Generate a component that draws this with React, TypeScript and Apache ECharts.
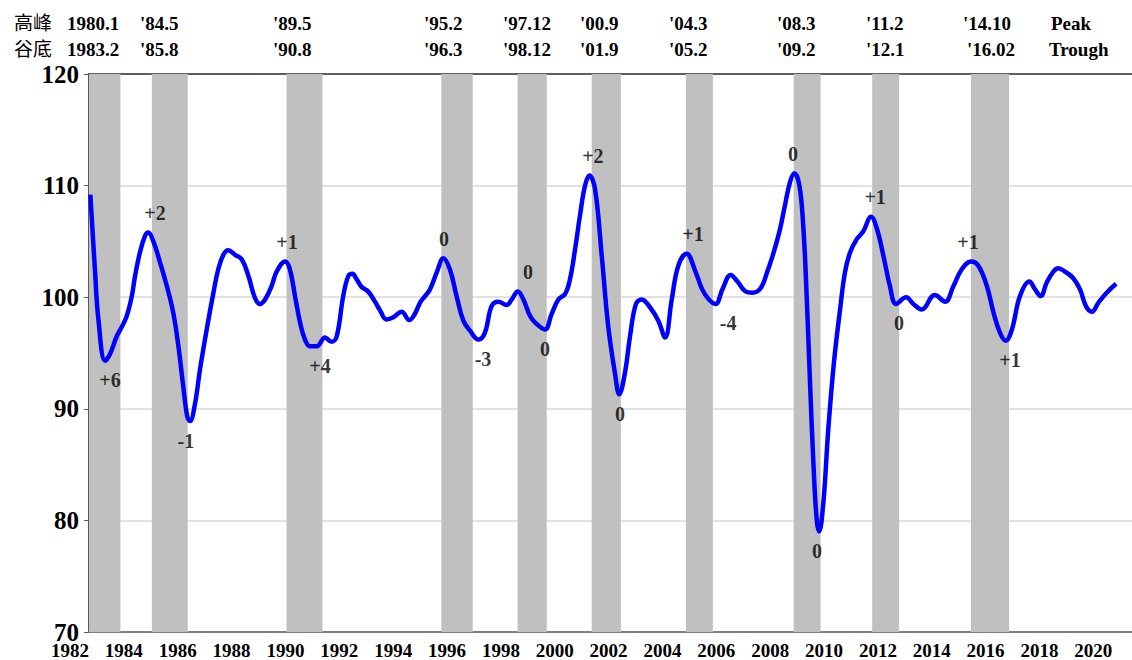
import { useEffect, useRef } from 'react';
import * as echarts from 'echarts';

// Leading index (composite): time (decimal year) and value
const cliTime = [
  1982.05, 1982.22, 1982.35, 1982.6, 1982.78, 1983.03, 1983.21, 1983.4, 1983.59, 1983.71,
  1983.89, 1984.08, 1984.2, 1984.39, 1984.64, 1984.89, 1985.13, 1985.32, 1985.5, 1985.65,
  1985.75, 1985.94, 1986.12, 1986.37, 1986.62, 1986.8, 1986.99, 1987.17, 1987.42, 1987.67,
  1987.92, 1988.16, 1988.35, 1988.54, 1988.78, 1988.97, 1989.28, 1989.46, 1989.65, 1989.84,
  1990.02, 1990.21, 1990.46, 1990.76, 1991.01, 1991.2, 1991.44, 1991.63, 1991.78, 1991.94,
  1992.13, 1992.37, 1992.62, 1992.81, 1993.05, 1993.3, 1993.61, 1993.89, 1994.1, 1994.29,
  1994.48, 1994.66, 1994.91, 1995.16, 1995.4, 1995.65, 1995.9, 1996.15, 1996.46, 1996.7,
  1996.95, 1997.2, 1997.51, 1997.7, 1997.92, 1998.13, 1998.38, 1998.62, 1998.93, 1999.18,
  1999.43, 1999.68, 1999.86, 2000.05, 2000.23, 2000.42, 2000.58, 2000.79, 2001.04, 2001.28,
  2001.53, 2001.69, 2001.9, 2002.09, 2002.31, 2002.52, 2002.83, 2003.14, 2003.39, 2003.64,
  2003.88, 2004.19, 2004.52, 2004.77, 2005.02, 2005.27, 2005.52, 2005.83, 2006.08, 2006.39,
  2006.63, 2006.94, 2007.19, 2007.41, 2007.66, 2007.84, 2008.03, 2008.19, 2008.38, 2008.53,
  2008.65, 2008.77, 2008.9, 2009.02, 2009.11, 2009.27, 2009.45, 2009.66, 2009.89, 2010.07,
  2010.26, 2010.51, 2010.75, 2011.04, 2011.25, 2011.5, 2011.74, 2011.97, 2012.34, 2012.61,
  2012.92, 2013.41, 2013.79, 2014.1, 2014.41, 2014.75, 2015.03, 2015.34, 2015.59, 2015.83,
  2016.04, 2016.27, 2016.57, 2016.92, 2017.13, 2017.34, 2017.56, 2017.81, 2017.99, 2018.24,
  2018.55, 2018.8, 2019.02, 2019.24, 2019.48, 2019.79, 2020.14,
];
const cliValue = [
  109.2, 102.5, 98.0, 94.3, 94.9, 96.5, 97.3, 98.3, 100.1, 101.9,
  104.0, 105.5, 105.8, 105.0, 103.1, 101.0, 98.6, 95.6, 92.0, 89.3,
  88.9, 90.5, 93.5, 97.1, 100.4, 102.5, 103.8, 104.2, 103.8, 103.4,
  101.9, 99.95, 99.4, 99.8, 101.0, 102.3, 103.2, 102.5, 100.1, 97.7,
  96.2, 95.6, 95.6, 96.4, 96.0, 96.5, 100.1, 101.9, 102.1, 101.6,
  100.9, 100.5, 99.6, 98.8, 98.0, 98.2, 98.7, 97.95, 98.5, 99.5,
  100.1, 100.7, 102.2, 103.5, 102.5, 100.1, 97.9, 97.0, 96.2, 96.8,
  99.2, 99.6, 99.3, 99.8, 100.5, 99.8, 98.3, 97.6, 97.1, 98.5,
  99.8, 100.3, 101.6, 104.3, 107.3, 110.0, 110.9, 109.7, 103.7, 97.4,
  93.2, 91.3, 93.2, 96.5, 99.4, 99.8, 99.1, 97.9, 96.4, 99.8,
  102.8, 103.9, 102.3, 100.7, 99.8, 99.4, 100.7, 102.0, 101.4, 100.5,
  100.4, 100.8, 102.3, 103.9, 106.1, 108.2, 110.3, 111.1, 110.0, 106.1,
  100.1, 92.6, 85.1, 80.1, 79.0, 81.6, 88.1, 94.1, 98.9, 102.2,
  104.0, 105.2, 105.9, 107.2, 106.2, 103.7, 101.0, 99.4, 100.0, 99.4,
  98.9, 100.2, 99.6, 101.0, 102.5, 103.2, 102.8, 101.0, 98.6, 96.8,
  96.1, 97.1, 100.1, 101.4, 100.7, 100.1, 101.3, 102.3, 102.6, 102.3,
  101.7, 100.7, 99.2, 98.7, 99.5, 100.4, 101.2,
];

// Reference-cycle turning points (year, month)
const peakYM = [[1980, 1], [1984, 5], [1989, 5], [1995, 2], [1997, 12], [2000, 9], [2004, 3], [2008, 3], [2011, 2], [2014, 10]];
const troughYM = [[1983, 2], [1985, 8], [1990, 8], [1996, 3], [1998, 12], [2001, 9], [2005, 2], [2009, 2], [2012, 1], [2016, 2]];

// Header texts
const peakTexts = ['1980.1', "'84.5", "'89.5", "'95.2", "'97.12", "'00.9", "'04.3", "'08.3", "'11.2", "'14.10"];
const troughTexts = ['1983.2', "'85.8", "'90.8", "'96.3", "'98.12", "'01.9", "'05.2", "'09.2", "'12.1", "'16.02"];

// Lead/lag (months) of the index at its peaks and troughs
const peakLagTime = [1984.45, 1989.35, 1995.18, 1998.3, 2000.71, 2004.43, 2008.14, 2011.19, 2014.64];
const peakLagValue = [105.8, 103.2, 103.5, 100.5, 110.9, 103.9, 111.1, 107.2, 103.2];
const peakLagText = ['+2', '+1', '0', '0', '+2', '+1', '0', '+1', '+1'];
const troughLagTime = [1982.78, 1985.6, 1990.58, 1996.63, 1998.93, 2001.72, 2005.73, 2009.03, 2012.08, 2016.2];
const troughLagValue = [94.3, 88.9, 95.6, 96.2, 97.1, 91.3, 99.4, 79.0, 99.4, 96.1];
const troughLagText = ['+6', '-1', '+4', '-3', '0', '0', '-4', '0', '0', '+1'];

const X_MIN = 1982;
const X_MAX = 2020.73;

const SERIF = '"Liberation Serif", "Times New Roman", serif';
const CJK = '"Noto Sans CJK TC", "Noto Sans CJK SC", sans-serif';

// header layout (left edges in px)
const headerPeakX = [67, 140, 273, 424, 503, 580, 669, 777, 866, 963];
const headerTroughX = [67, 140, 273, 424, 503, 580, 669, 777, 866, 967];

export default function App() {
  const ref = useRef<HTMLDivElement>(null);

  useEffect(() => {
    if (!ref.current) return;
    const chart = echarts.init(ref.current, null, { renderer: 'svg' });

    const lineData = cliTime.map((t, i) => [t, cliValue[i]]);
    const bands = peakYM.map((p, i) => {
      const s = Math.max(X_MIN, p[0] + (p[1] - 1) / 12);
      const e = troughYM[i][0] + troughYM[i][1] / 12;
      return [{ xAxis: s }, { xAxis: e }];
    });

    const lagData = [
      ...peakLagTime.map((t, i) => ({
        value: [t, peakLagValue[i]],
        name: peakLagText[i],
        label: { position: 'top' },
      })),
      ...troughLagTime.map((t, i) => ({
        value: [t, troughLagValue[i]],
        name: troughLagText[i],
        label: { position: 'bottom' },
      })),
    ];

    const headerStyle = { font: `bold 19px ${SERIF}`, fill: '#000', textVerticalAlign: 'middle' };
    const graphics: any[] = [
      { type: 'text', left: 14, top: 12, style: { text: '高峰', font: `19px ${CJK}`, fill: '#000' } },
      { type: 'text', left: 14, top: 38, style: { text: '谷底', font: `19px ${CJK}`, fill: '#000' } },
      ...peakTexts.map((t, i) => ({ type: 'text', x: headerPeakX[i], y: 23, style: { ...headerStyle, text: t } })),
      ...troughTexts.map((t, i) => ({ type: 'text', x: headerTroughX[i], y: 49, style: { ...headerStyle, text: t } })),
      { type: 'text', x: 1051, y: 23, style: { ...headerStyle, text: 'Peak' } },
      { type: 'text', x: 1049, y: 49, style: { ...headerStyle, text: 'Trough' } },
    ];

    chart.setOption({
      animation: false,
      backgroundColor: '#fff',
      grid: { left: 89, right: 0, top: 74, bottom: 28, outerBoundsMode: 'none', containLabel: false },
      xAxis: [
        {
          type: 'value',
          min: X_MIN,
          max: X_MAX,
          interval: 2,
          axisLine: { show: true, lineStyle: { color: '#808080', width: 2 } },
          axisTick: { show: false },
          splitLine: { show: false },
          axisLabel: {
            align: 'right',
            margin: 9,
            fontFamily: SERIF,
            fontWeight: 'bold',
            fontSize: 19,
            color: '#000',
            formatter: (v: number) => (Math.abs(v - Math.round(v)) < 1e-6 && Math.round(v) % 2 === 0 ? String(Math.round(v)) : ''),
          },
        },
        {
          type: 'value',
          position: 'top',
          min: X_MIN,
          max: X_MAX,
          axisLine: { show: true, lineStyle: { color: '#333', width: 1.5 } },
          axisTick: { show: false },
          axisLabel: { show: false },
          splitLine: { show: false },
        },
      ],
      yAxis: {
        type: 'value',
        min: 70,
        max: 120,
        interval: 10,
        axisLine: { show: true, lineStyle: { color: '#595959', width: 2 } },
        axisTick: { show: true, length: 5, lineStyle: { color: '#595959' } },
        splitLine: { show: true, lineStyle: { color: '#d9d9d9', width: 1.5 } },
        axisLabel: {
          margin: 10,
          fontFamily: SERIF,
          fontWeight: 'bold',
          fontSize: 25,
          color: '#000',
        },
      },
      graphic: graphics,
      series: [
        {
          type: 'line',
          data: [],
          z: 1,
          silent: true,
          markArea: {
            silent: true,
            itemStyle: { color: '#c0c0c0' },
            label: { show: false },
            data: bands,
          },
        },
        {
          type: 'line',
          data: lineData,
          z: 5,
          smooth: 0.4,
          showSymbol: false,
          symbol: 'none',
          lineStyle: { color: '#0000ff', width: 4.5 },
        },
        {
          type: 'scatter',
          data: lagData,
          z: 6,
          symbolSize: 1,
          itemStyle: { color: 'rgba(0,0,0,0)' },
          label: {
            show: true,
            distance: 9,
            formatter: (p: any) => p.name,
            fontFamily: SERIF,
            fontWeight: 'bold',
            fontSize: 20,
            color: '#000',
          },
        },
      ],
    });

    return () => chart.dispose();
  }, []);

  return <div ref={ref} style={{ position: 'fixed', left: 0, top: 0, width: 1132, height: 660 }} />;
}
